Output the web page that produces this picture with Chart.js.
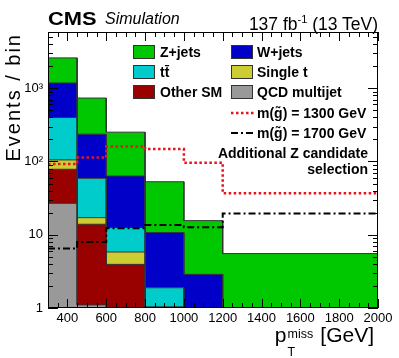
<!DOCTYPE html>
<html lang="en">
<head>
<meta charset="UTF-8">
<title>CMS pTmiss</title>
<script src="https://cdn.jsdelivr.net/npm/chart.js"></script>
<style>
  body { margin: 0; background: #fff; }
  #wrap { position: relative; width: 399px; height: 358px; font-family: "Liberation Sans", Arial, sans-serif; color: #000; }
  #wrap canvas { position: absolute; left: 0; top: 0; }
  .abs { position: absolute; white-space: nowrap; }
  .leg { position: absolute; font-weight: bold; font-size: 14px; line-height: 16px; white-space: nowrap; }
  .box { position: absolute; width: 20px; height: 12px; border: 1px solid #333; }
</style>
</head>
<body>
<div id="wrap">
  <canvas id="c" width="399" height="358"></canvas>

  <div class="abs" style="left:48px; top:9px; font-size:19px; line-height:19px; font-weight:bold; transform:scaleX(1.15); transform-origin:left top;">CMS</div>
  <div class="abs" style="left:105px; top:11px; font-size:16px; line-height:16px; font-style:italic;">Simulation</div>
  <div class="abs" style="right:21px; top:11px; font-size:17.5px; line-height:16px;">137 fb<sup style="font-size:11px; vertical-align:7px;">-1</sup> (13 TeV)</div>

  <div class="abs" style="left:2px; top:233px; width:200px; text-align:right; font-size:20px; line-height:22px; letter-spacing:2px; transform:rotate(-90deg); transform-origin:0 0;">Events / bin</div>

  <div class="abs" style="right:25px; top:325px; font-size:21px; line-height:20px;">p<span style="display:inline-block; position:relative; width:28px; height:1px;"><span style="position:absolute; left:1px; top:-17px; font-size:12.5px;">miss</span><span style="position:absolute; left:1px; top:1px; font-size:12.5px;">T</span></span> [GeV]</div>

  <!-- legend -->
  <div class="box" style="left:133px; top:45px; background:#00c800;"></div>
  <div class="leg" style="left:160px; top:44px;">Z+jets</div>
  <div class="box" style="left:231px; top:45px; background:#0000c8;"></div>
  <div class="leg" style="left:257px; top:44px;">W+jets</div>

  <div class="box" style="left:133px; top:65px; background:#00cccc;"></div>
  <div class="leg" style="left:160px; top:64px;">tt̄</div>
  <div class="box" style="left:231px; top:65px; background:#cccc33;"></div>
  <div class="leg" style="left:257px; top:64px;">Single t</div>

  <div class="box" style="left:133px; top:85px; background:#990000;"></div>
  <div class="leg" style="left:160px; top:84px;">Other SM</div>
  <div class="box" style="left:231px; top:85px; background:#999999;"></div>
  <div class="leg" style="left:257px; top:84px;">QCD multijet</div>

  <svg class="abs" style="left:231px; top:108px;" width="24" height="10">
    <line x1="0" y1="5" x2="23" y2="5" stroke="#e8141c" stroke-width="2.5" stroke-dasharray="2.5,2.5"/>
  </svg>
  <div class="leg" style="left:257px; top:105px;">m(g̃) = 1300 GeV</div>
  <svg class="abs" style="left:231px; top:128px;" width="24" height="10">
    <line x1="0" y1="5" x2="23" y2="5" stroke="#000" stroke-width="2" stroke-dasharray="7,3,2,3"/>
  </svg>
  <div class="leg" style="left:257px; top:125px;">m(g̃) = 1700 GeV</div>

  <div class="leg" style="right:31px; top:145px; text-align:right;">Additional Z candidate<br>selection</div>
</div>

<script>
// bin edges in pTmiss [GeV]
const edges = [300, 450, 600, 800, 1000, 1200, 2000];

// background components per bin (bottom of stack first)
const qcd     = [26.8, 1.1, 0, 0, 0, 0];
const otherSM = [51.4, 12.8, 3.94, 1.03, 0, 0];
const singleT = [26.8, 3.2, 1.87, 0, 0, 0];
const ttbar   = [293, 41.8, 6.74, 0.86, 0, 0];
const wjets   = [780, 177, 50.7, 8.8, 2.88, 0];
const zjets   = [1415, 498, 188, 42.2, 12.7, 5.53];

// signal benchmarks
const sig1300 = [92.4, 113, 160, 148, 96.3, 36.7];
const sig1700 = [6.47, 7.97, 12.3, 13.6, 12.7, 19.5];

const xTicks = [400, 600, 800, 1000, 1200, 1400, 1600, 1800, 2000];
const yTicks = [1, 10, 100, 1000];
const yTickLabels = ['1', '10', '10²', '10³'];

const stack = [
  { name: 'QCD multijet', vals: qcd, color: '#999999' },
  { name: 'Other SM', vals: otherSM, color: '#990000' },
  { name: 'Single t', vals: singleT, color: '#cccc33' },
  { name: 'tt', vals: ttbar, color: '#00cccc' },
  { name: 'W+jets', vals: wjets, color: '#0000c8' },
  { name: 'Z+jets', vals: zjets, color: '#00c800' }
];

// histogram outline: two points per bin (left and right edge);
// log axis can't take 0, so empty bins sit on the axis floor
function steps(vals) {
  const pts = [];
  vals.forEach((v, i) => {
    const y = Math.max(v, 1);
    pts.push({ x: edges[i], y: y }, { x: edges[i + 1], y: y });
  });
  return pts;
}

const datasets = [
  { data: steps(sig1300), borderColor: '#e8141c', borderWidth: 2.5, borderDash: [2.5, 2.5], fill: false, pointRadius: 0 },
  { data: steps(sig1700), borderColor: '#000', borderWidth: 2, borderDash: [7, 3, 2, 3], fill: false, pointRadius: 0 }
];

let running = edges.slice(0, -1).map(() => 0);
stack.forEach((s, i) => {
  running = running.map((v, j) => v + s.vals[j]);
  datasets.push({
    data: steps(running),
    borderColor: '#333',
    borderWidth: 1,
    backgroundColor: s.color,
    fill: i === 0 ? 'start' : '-1',
    pointRadius: 0
  });
});

// ROOT-style frame with inward ticks on all four sides
const frameTicks = {
  id: 'frameTicks',
  afterDatasetsDraw(chart) {
    const { ctx, chartArea: a, scales: { x, y } } = chart;
    ctx.save();
    ctx.strokeStyle = '#000';
    ctx.lineWidth = 1;
    ctx.beginPath();
    for (let v = 300; v <= 2000; v += 50) {
      const px = Math.round(x.getPixelForValue(v)) + 0.5;
      const len = v % 200 === 0 ? 9 : 5;
      ctx.moveTo(px, a.bottom); ctx.lineTo(px, a.bottom - len);
      ctx.moveTo(px, a.top); ctx.lineTo(px, a.top + len);
    }
    for (let d = 1; d <= 1000; d *= 10) {
      for (let k = 1; k < 10; k++) {
        const v = d * k;
        if (v > y.max) break;
        const py = Math.round(y.getPixelForValue(v)) + 0.5;
        const len = k === 1 ? 10 : 5;
        ctx.moveTo(a.left, py); ctx.lineTo(a.left + len, py);
        ctx.moveTo(a.right, py); ctx.lineTo(a.right - len, py);
      }
    }
    ctx.stroke();
    ctx.strokeRect(a.left + 0.5, a.top + 0.5, a.right - a.left - 1, a.bottom - a.top - 1);
    ctx.restore();
  }
};

new Chart(document.getElementById('c'), {
  type: 'line',
  data: { datasets: datasets },
  options: {
    responsive: false,
    animation: false,
    devicePixelRatio: 1,
    layout: { padding: { top: 32, right: 21, left: 0, bottom: 0 } },
    plugins: { legend: { display: false }, tooltip: { enabled: false } },
    scales: {
      x: {
        type: 'linear',
        min: 300,
        max: 2000,
        grid: { display: false, drawTicks: false },
        border: { display: false },
        afterBuildTicks: s => { s.ticks = xTicks.map(v => ({ value: v })); },
        afterFit: s => { s.height = 50; },
        ticks: { color: '#000', padding: 3, maxRotation: 0, font: { family: 'Liberation Sans', size: 13 }, callback: v => String(v) }
      },
      y: {
        type: 'logarithmic',
        min: 1,
        max: 5850,
        grid: { display: false, drawTicks: false },
        border: { display: false },
        afterBuildTicks: s => { s.ticks = yTicks.map(v => ({ value: v })); },
        afterFit: s => { s.width = 48; },
        ticks: {
          color: '#000',
          padding: 5,
          font: { family: 'Liberation Sans', size: 13 },
          callback: v => yTickLabels[yTicks.indexOf(v)]
        }
      }
    }
  },
  plugins: [frameTicks]
});
</script>
</body>
</html>
